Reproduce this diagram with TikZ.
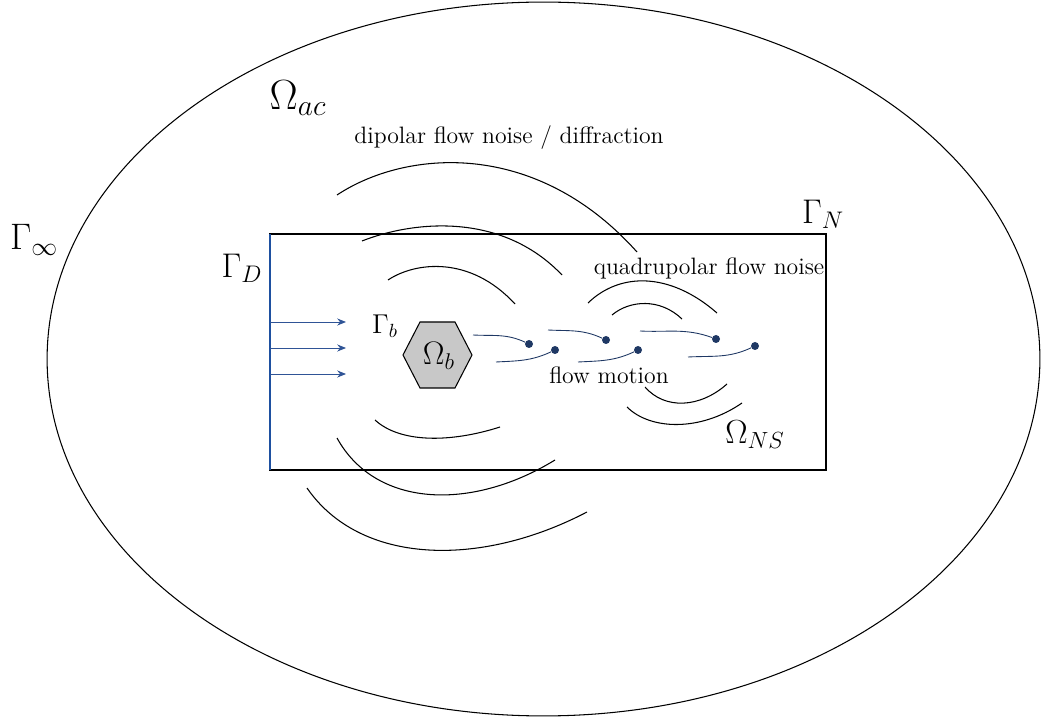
\RequirePackage{fix-cm}
\documentclass[tikz,border=0pt]{standalone}
\usepackage{amsmath, amssymb}
\usepackage{tikz}
\usetikzlibrary{arrows.meta, positioning, shapes.geometric}
\definecolor{flowblue}{RGB}{31,56,100}
\definecolor{arrowblue}{RGB}{47,84,150}
\definecolor{wallblue}{RGB}{30,80,160}
\definecolor{bodygray}{RGB}{200,200,200}

\begin{document}
\begin{tikzpicture}[
  x=0.02cm, y=-0.02cm,
  lbl/.style={inner sep=1pt},
  txt/.style={inner sep=1pt, font=\fontsize{13.5}{15}\selectfont},
  wave/.style={line width=0.6pt, black},
  stream/.style={line width=0.5pt, flowblue},
  particle/.style={circle, fill=flowblue, inner sep=0pt, minimum size=0.16cm},
  inflow/.style={arrowblue, line width=0.5pt, -{Stealth[length=5pt, width=4pt]}}
]
  \useasboundingbox (0,0) rectangle (1041,722);

  % far field and fluid box
  \draw[line width=0.6pt] (543.5,359) ellipse [x radius=9.93cm, y radius=7.14cm];
  \draw[line width=0.8pt] (270,234) rectangle (826,470);
  \draw[wallblue, line width=1.5pt] (270,234) -- (270,470);

  % obstacle
  \draw[fill=bodygray, line width=0.6pt] (403,355) -- (420,322) -- (455,322) -- (472,355)
    -- (455,388) -- (420,388) -- cycle;
  \node[lbl, font=\fontsize{18.5}{20}\selectfont] (ob) at (439,356) {$\Omega_b$};

  % labels
  \node[lbl, font=\fontsize{24}{26}\selectfont] (oac) at (298,98) {$\Omega_{ac}$};
  \node[lbl, font=\fontsize{19}{21}\selectfont] (ons) at (755,435) {$\Omega_{NS}$};
  \node[lbl, font=\fontsize{21}{23}\selectfont] (ginf) at (34,240) {$\Gamma_\infty$};
  \node[lbl, font=\fontsize{19.5}{21}\selectfont] (gn) at (823,214) {$\Gamma_N$};
  \node[lbl, font=\fontsize{19.5}{21}\selectfont] (gd) at (242,268) {$\Gamma_D$};
  \node[lbl, font=\fontsize{15.5}{17}\selectfont] (gb) at (385,326) {$\Gamma_b$};
  \node[txt] (dip) at (509,138) {dipolar flow noise / diffraction};
  \node[txt] (quad) at (709,268) {quadrupolar flow noise};
  \node[txt] (fm) at (609,375) {flow motion};

  % inflow arrows
  \coordinate (in1) at (270,322); \coordinate (out1) at (346,322);
  \coordinate (in2) at (270,348); \coordinate (out2) at (346,348);
  \coordinate (in3) at (270,374); \coordinate (out3) at (346,374);
  \draw[inflow] (in1) -- (out1);
  \draw[inflow] (in2) -- (out2);
  \draw[inflow] (in3) -- (out3);

  % wake particles
  \node[particle] (p1) at (529,344) {};
  \node[particle] (p2) at (555,350) {};
  \node[particle] (p3) at (606,340) {};
  \node[particle] (p4) at (638,350) {};
  \node[particle] (p5) at (716,339) {};
  \node[particle] (p6) at (755,346) {};
  \coordinate (s1) at (473,335);
  \coordinate (s2) at (496,362);
  \coordinate (s3) at (548,330);
  \coordinate (s4) at (578,362);
  \coordinate (s5) at (640,331);
  \coordinate (s6) at (688,357);
  \draw[stream] (s1) to[out=-3, in=155] (p1);
  \draw[stream] (s2) to[out=3, in=205] (p2);
  \draw[stream] (s3) to[out=-3, in=155] (p3);
  \draw[stream] (s4) to[out=3, in=205] (p4);
  \draw[stream] (s5) to[out=-3, in=160] (p5);
  \draw[stream] (s6) to[out=3, in=205] (p6);

  % dipolar fronts
  \draw[wave] (337,195) .. controls (405,150) and (535,138) .. (637,252);
  \draw[wave] (362,241) .. controls (410,222) and (500,210) .. (562,275);
  \draw[wave] (388,280) .. controls (415,262) and (470,255) .. (515,304);
  \draw[wave] (375,420) .. controls (400,443) and (450,443) .. (500,427);
  \draw[wave] (337,438) .. controls (375,507) and (470,512) .. (555,460);
  \draw[wave] (307,488) .. controls (360,565) and (480,568) .. (587,512);

  % quadrupolar fronts
  \draw[wave] (588,303) .. controls (620,272) and (670,272) .. (717,313);
  \draw[wave] (612,315) .. controls (630,300) and (660,298) .. (682,319);
  \draw[wave] (645,387) .. controls (665,410) and (700,408) .. (727,384);
  \draw[wave] (627,407) .. controls (650,430) and (700,432) .. (742,403);
\end{tikzpicture}
\end{document}
